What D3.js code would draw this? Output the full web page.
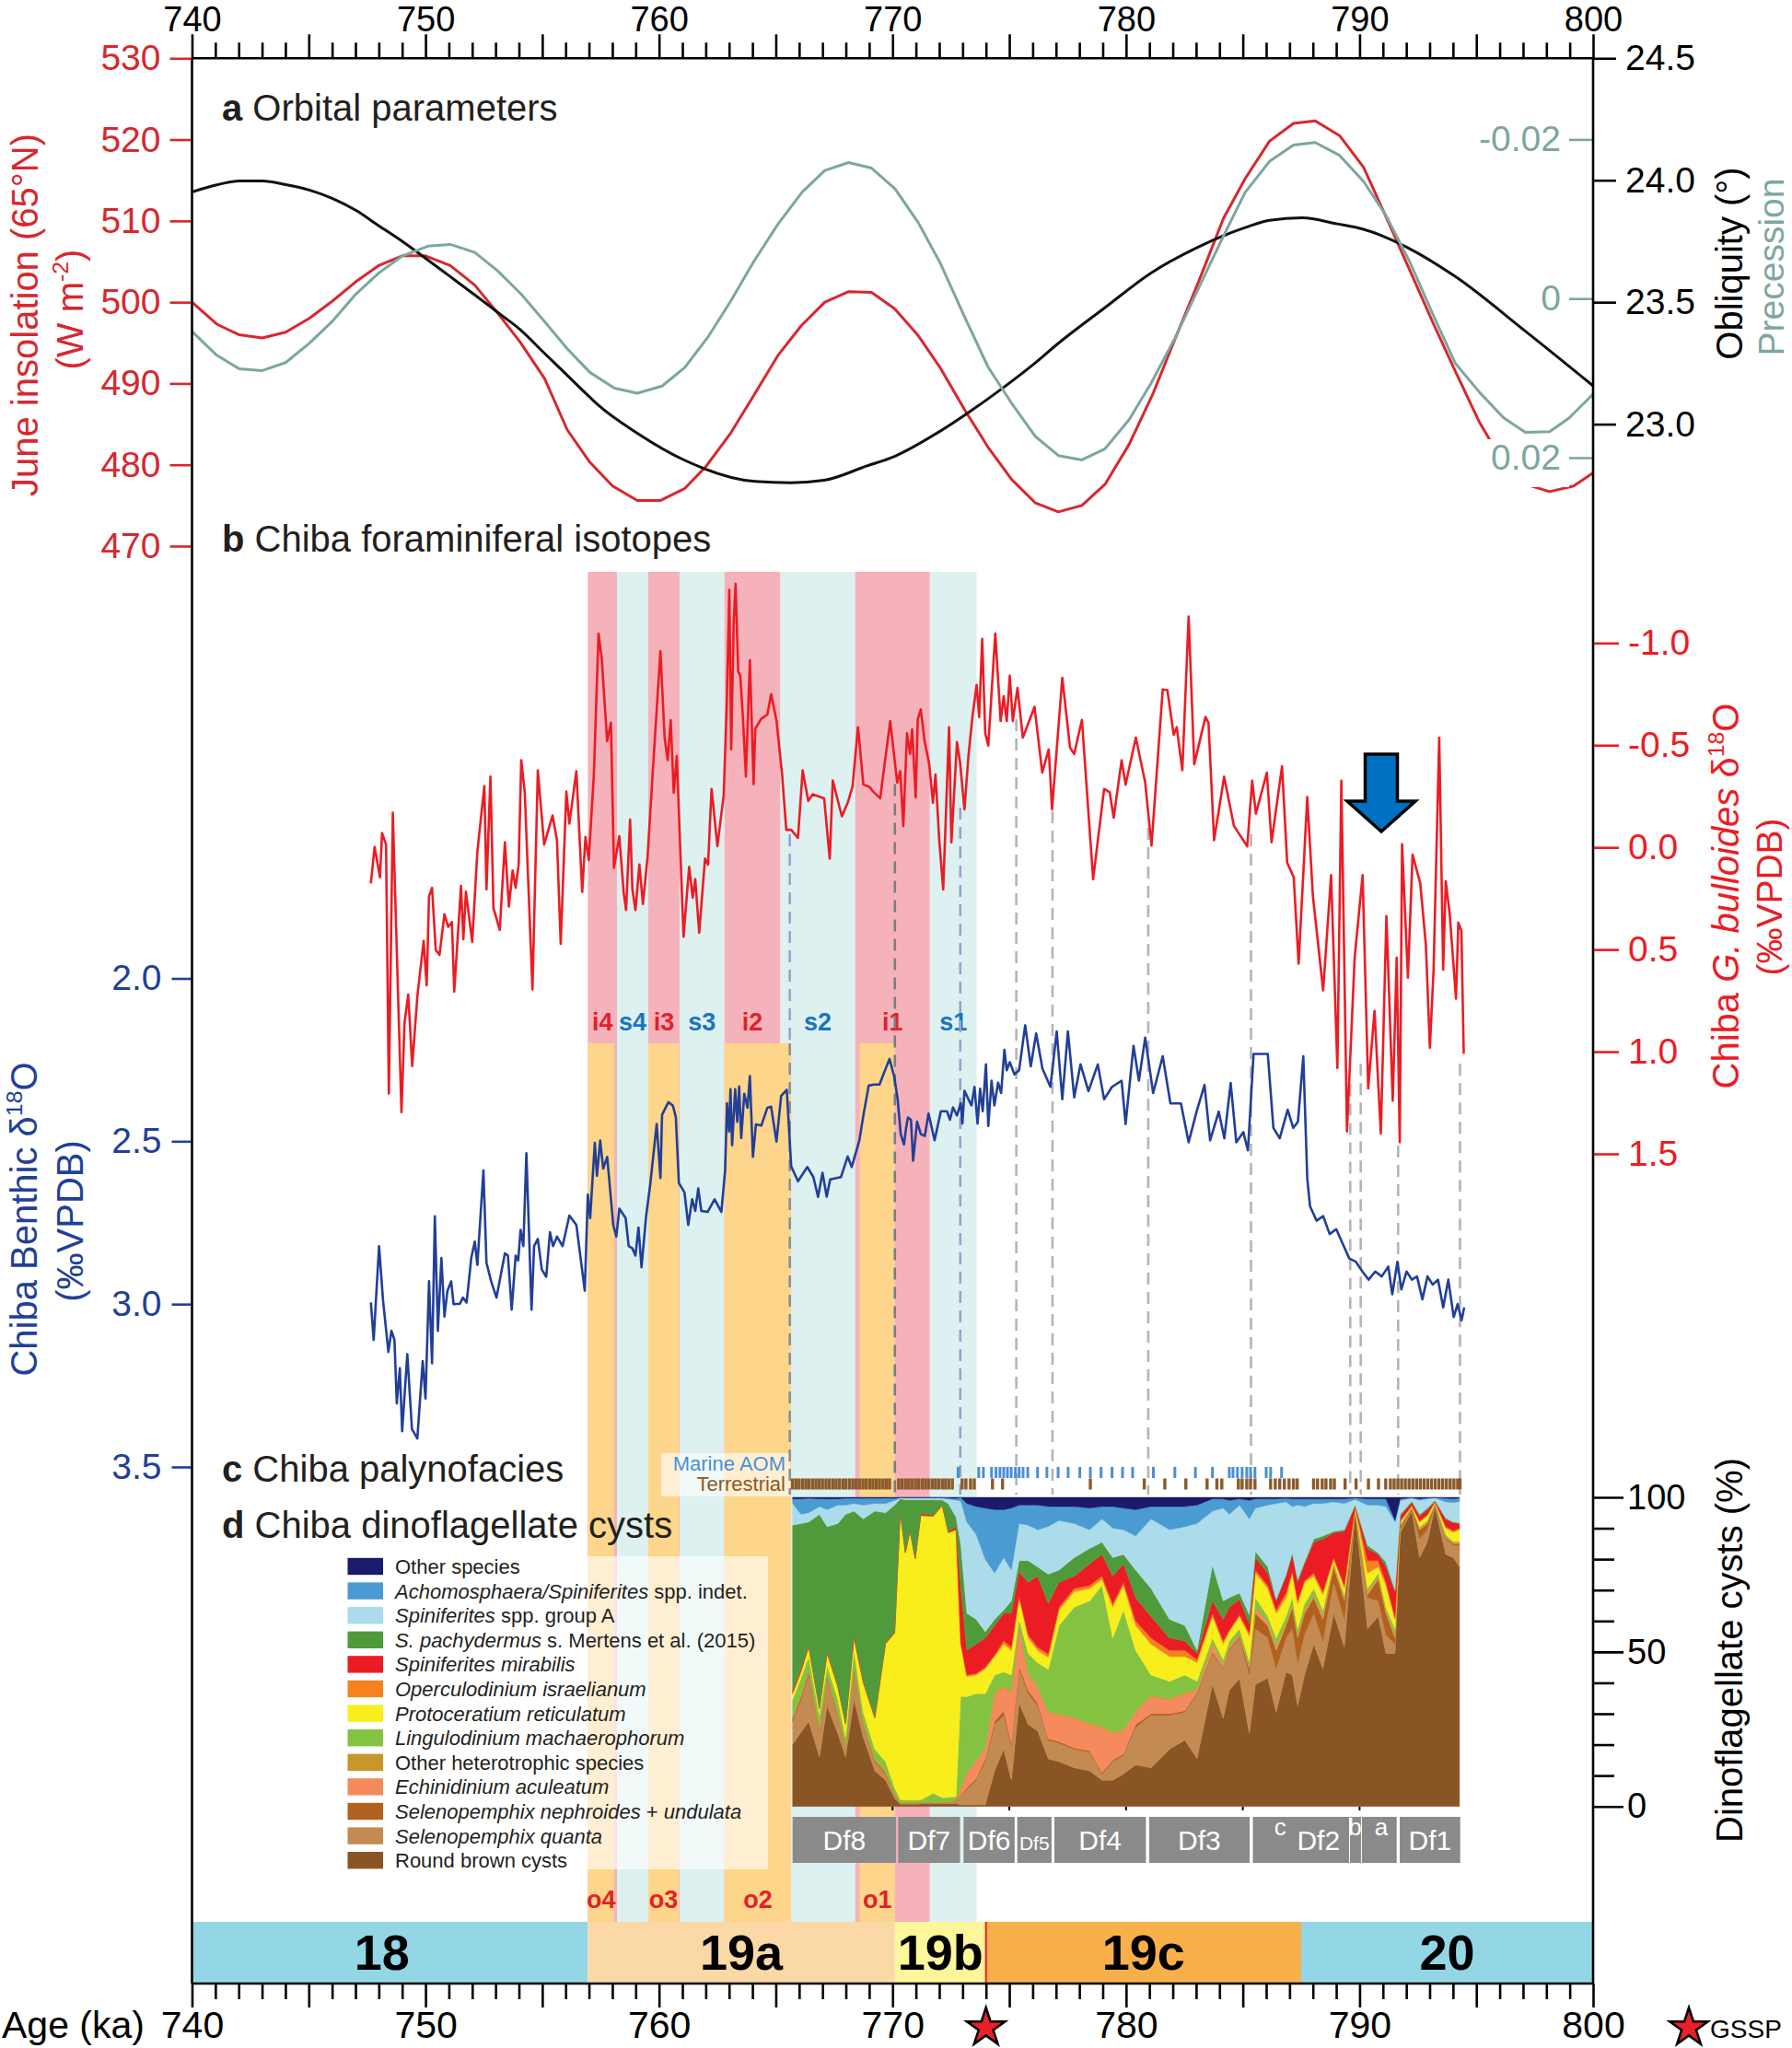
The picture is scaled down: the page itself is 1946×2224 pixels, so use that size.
<!DOCTYPE html>
<html><head><meta charset="utf-8">
<script src="https://cdn.jsdelivr.net/npm/d3@7"></script>
<style>
html,body{margin:0;padding:0;background:#fff;}
svg{display:block;}
</style></head><body>
<svg id="c" width="1946" height="2224"></svg>
<script>
// ---------------- DATA ----------------
const insolAge=[740,741.06,742.01,743.01,744.01,745.02,746,747.01,747.99,749,750,751.06,752.11,753.08,754.05,755.1,756.07,757.04,758.01,759.07,760.05,761.11,762.01,763.07,764.05,765.08,766.09,767.1,768.12,769.1,770.09,771.07,772.05,773.1,774.08,775.1,776.12,777.1,778.11,779.1,780.13,781.16,782.1,783.13,784.17,785.1,786.14,787.17,788.1,789.14,790.17,791.1,792.14,793.17,794.1,795.14,796.1,797.1,798.14,799.17,800];
const insolVal=[500.0,497.3,496.0,495.6,496.3,498.0,500.1,502.5,504.5,505.7,505.7,504.5,502.1,498.7,495.1,490.6,484.3,480.3,477.4,475.6,475.6,477.1,479.8,483.9,488.5,493.4,497.1,500.0,501.3,501.2,499.2,496.0,491.9,486.7,482.2,478.2,475.3,474.2,475.0,477.6,482.5,488.8,495.5,502.7,510.3,515.2,519.8,522.0,522.3,520.5,516.6,510.7,504.0,497.3,491.5,485.2,480.5,477.6,476.7,477.4,479.0];
const oblAge=[740,741.06,742.01,743.01,744.01,745.02,746,747.01,747.99,749,750,751.06,752.11,753.08,754.05,755.1,756.07,757.04,757.41,759.07,761.03,764.12,765.63,767.07,768.88,770.09,771.9,773.18,774.76,776.12,777.03,779.1,781.07,783.04,785.1,786.14,787.54,789.04,790.17,792.05,794.1,797.1,800];
const oblVal=[23.952,23.981,23.997,23.997,23.982,23.96,23.926,23.877,23.814,23.75,23.68,23.605,23.53,23.459,23.388,23.29,23.2,23.11,23.077,22.963,22.855,22.765,22.76,22.77,22.828,22.868,22.963,23.043,23.151,23.252,23.326,23.478,23.62,23.724,23.806,23.836,23.846,23.821,23.799,23.724,23.605,23.381,23.157];
const precAge=[740,741.06,742.01,743.01,744.01,745.02,746,747.01,747.99,749,750.1,751.06,752.11,753.08,754.1,755.1,756.07,757.04,758.09,759.07,760.13,761.1,762.09,763.07,764.05,765.1,766.13,767.1,768.12,769.1,770.11,771.11,772.05,773.1,774.09,775.14,776.12,777.1,778.11,779.1,780.13,781.07,782.1,783.13,784.17,785.1,786.14,787.17,788.1,789.14,790.17,791.1,792.14,793.17,794.1,795.14,796.17,797.1,798.14,798.98,800];
const precVal=[0.00412,0.00713,0.00882,0.00905,0.00805,0.00563,0.00289,-0.00054,-0.00319,-0.00534,-0.00658,-0.0068,-0.0058,-0.00351,-0.00054,0.00289,0.00631,0.00928,0.01127,0.0119,0.011,0.00867,0.00486,0.00033,-0.00463,-0.00938,-0.01338,-0.0161,-0.0171,-0.0164,-0.01379,-0.0095,-0.00442,0.0024,0.0086,0.01334,0.01734,0.01973,0.02028,0.01888,0.01523,0.01066,0.00494,-0.00146,-0.00786,-0.01334,-0.01723,-0.01929,-0.01961,-0.018,-0.01472,-0.0106,-0.00466,0.0022,0.00814,0.0118,0.015,0.01682,0.01673,0.015,0.01202];

const bulAge=[747.66,747.82,748.05,748.14,748.31,748.43,748.6,748.97,749.1,749.26,749.43,749.65,749.92,750.05,750.15,750.28,750.44,750.6,750.81,750.97,751.13,751.23,751.52,751.62,751.73,752.0,752.22,752.52,752.61,752.78,752.91,753.18,753.4,753.57,753.73,753.86,753.99,754.1,754.25,754.58,754.81,755.08,755.44,755.63,755.79,756.03,756.16,756.46,756.71,756.85,756.99,757.21,757.41,757.55,757.65,757.78,757.94,758.07,758.3,758.49,758.59,758.76,758.86,758.99,759.16,759.31,759.51,759.78,760.06,760.24,760.37,760.5,760.63,760.76,761.05,761.29,761.44,761.55,761.72,761.97,762.1,762.25,762.5,762.77,762.9,763.01,763.09,763.2,763.28,763.39,763.48,763.59,763.72,763.89,764.05,764.12,764.38,764.64,764.8,765.03,765.27,765.45,765.66,765.95,766.15,766.39,766.58,767.07,767.31,767.44,767.83,768.08,768.29,768.52,768.75,769.01,769.17,769.47,769.9,770.2,770.33,770.46,770.62,770.75,770.84,770.99,771.08,771.21,771.37,771.57,771.73,771.84,772.0,772.17,772.42,772.52,772.76,772.89,773.08,773.25,773.42,773.6,773.71,773.84,773.97,774.1,774.4,774.63,774.76,774.89,775.02,775.15,775.35,775.58,775.75,776.08,776.41,776.69,776.83,777.27,777.6,777.78,778.11,778.59,779.06,779.3,779.47,779.81,779.98,780.42,780.82,781.09,781.57,781.77,782.04,782.17,782.41,782.68,782.92,783.4,783.53,783.77,784.2,784.62,785.19,785.4,785.56,786.03,786.23,786.68,786.9,787.18,787.39,787.76,788.0,788.44,788.78,789.05,789.22,789.46,789.79,790.13,790.37,790.64,790.91,791.15,791.42,791.59,791.72,791.82,792.07,792.27,792.6,792.84,793.01,793.17,793.41,793.58,793.69,793.86,794.13,794.23,794.36,794.46];
const bulVal=[0.177,-0.002,0.147,-0.07,-0.014,1.205,-0.17,1.296,0.86,0.72,1.07,0.73,0.458,0.675,0.24,0.198,0.503,0.526,0.327,0.389,0.366,0.706,0.189,0.45,0.217,0.463,0.021,-0.30,0.205,-0.346,0.297,0.404,-0.025,0.29,0.113,0.198,0.083,-0.427,-0.27,0.695,-0.377,-0.014,-0.156,-0.035,0.472,-0.273,-0.116,-0.373,0.218,-0.051,0.062,-0.357,-1.046,-0.92,-0.74,-0.52,-0.61,0.10,-0.055,0.226,0.307,-0.136,0.206,0.307,0.084,0.277,0.045,-0.457,-0.96,-0.537,-0.427,-0.623,-0.267,-0.447,0.437,0.095,0.246,0.156,0.418,0.055,0.084,-0.286,-0.006,-0.256,-0.70,-1.26,-0.48,-1.11,-1.29,-0.86,-0.84,-0.64,-0.347,-0.916,-0.31,-0.58,-0.63,-0.65,-0.75,-0.62,-0.357,-0.086,-0.086,-0.046,-0.377,-0.227,-0.26,-0.24,0.055,-0.327,-0.152,-0.218,-0.30,-0.588,-0.308,-0.296,-0.273,-0.24,-0.618,-0.317,-0.373,-0.105,-0.558,-0.457,-0.578,-0.246,-0.628,-0.675,-0.522,-0.407,-0.218,-0.357,-0.035,0.206,-0.588,-0.025,-0.515,-0.417,-0.186,-0.447,-0.638,-0.795,-0.638,-1.02,-0.558,-0.498,-1.046,-0.618,-0.74,-0.618,-0.84,-0.618,-0.78,-0.537,-0.588,-0.688,-0.366,-0.479,-0.186,-0.83,-0.488,-0.457,-0.624,0.156,-0.286,-0.27,-0.145,-0.427,-0.307,-0.537,-0.317,-0.009,-0.773,-0.769,-0.551,-0.588,-0.377,-1.13,-0.407,-0.638,-0.61,-0.035,-0.346,-0.105,-0.005,-0.326,-0.165,-0.366,-0.025,-0.397,0.075,0.146,0.569,-0.246,0.237,0.70,0.136,1.08,-0.326,1.39,0.54,0.136,1.18,0.80,1.40,0.336,1.24,0.54,1.443,-0.015,0.638,0.036,0.177,0.478,0.98,0.598,-0.537,0.598,0.166,0.327,0.74,0.368,0.408,1.01];

const benAge=[747.66,747.78,748.01,748.18,748.41,748.54,748.67,748.77,748.9,749.0,749.22,749.42,749.65,749.88,750.0,750.15,750.28,750.4,750.53,750.68,750.81,750.94,751.1,751.2,751.47,751.6,751.76,751.96,752.11,752.22,752.48,752.61,752.81,753.04,753.4,753.53,753.69,753.86,753.97,754.07,754.19,754.32,754.54,754.65,754.81,754.98,755.17,755.33,755.46,755.63,755.87,756.16,756.46,756.82,756.95,757.05,757.25,757.34,757.48,757.61,757.78,758.04,758.17,758.3,758.57,758.7,758.86,758.99,759.12,759.25,759.45,759.62,759.9,760.06,760.13,760.4,760.59,760.72,760.85,761.09,761.25,761.42,761.55,761.68,761.81,762.08,762.38,762.67,762.83,762.91,763.0,763.06,763.13,763.26,763.35,763.43,763.52,763.65,763.79,763.89,764.02,764.15,764.38,764.64,764.8,765.03,765.23,765.47,765.66,765.95,766.35,766.61,766.81,767.0,767.18,767.33,767.79,768.08,768.25,768.58,768.75,768.98,769.21,769.44,769.64,769.87,770.07,770.22,770.35,770.49,770.58,770.66,770.79,770.88,771.05,771.21,771.38,771.54,771.8,772.07,772.33,772.46,772.59,772.76,772.92,772.99,773.08,773.25,773.38,773.51,773.64,773.75,773.86,774.0,774.1,774.24,774.36,774.52,774.65,774.79,774.89,775.02,775.22,775.42,775.68,775.92,776.15,776.42,776.76,777.03,777.27,777.51,777.78,778.05,778.39,778.79,779.06,779.4,779.81,779.98,780.32,780.55,780.82,781.16,781.57,781.9,782.35,782.68,783.02,783.36,783.6,783.97,784.21,784.48,784.72,785.02,785.22,785.46,785.9,786.07,786.31,786.58,786.92,787.16,787.36,787.59,787.76,787.88,788.16,788.44,788.72,789.0,789.28,789.56,789.84,790.12,790.39,790.67,790.95,791.23,791.4,791.62,791.79,792.01,792.24,792.46,792.69,792.91,793.13,793.36,793.58,793.8,794.03,794.2,794.37,794.48];
const benVal=[2.995,3.11,2.822,2.988,3.147,3.082,3.11,3.305,3.197,3.39,3.154,3.384,3.413,3.175,3.29,2.93,3.182,2.73,3.082,2.858,3.038,2.959,2.93,3.0,2.999,2.98,2.995,2.858,2.808,2.88,2.59,2.873,2.93,2.98,2.844,2.851,3.017,2.851,2.866,2.772,2.822,2.537,3.017,2.822,2.80,2.894,2.916,2.779,2.822,2.793,2.822,2.728,2.757,2.959,2.664,2.736,2.505,2.606,2.498,2.584,2.548,2.757,2.793,2.707,2.736,2.822,2.829,2.851,2.765,2.887,2.728,2.635,2.447,2.613,2.419,2.38,2.39,2.426,2.628,2.657,2.757,2.678,2.714,2.645,2.714,2.717,2.678,2.717,2.59,2.383,2.47,2.34,2.512,2.34,2.44,2.332,2.49,2.354,2.397,2.30,2.548,2.448,2.452,2.397,2.394,2.501,2.361,2.342,2.577,2.623,2.579,2.61,2.671,2.597,2.67,2.617,2.61,2.547,2.579,2.497,2.421,2.329,2.326,2.326,2.289,2.247,2.301,2.371,2.478,2.51,2.459,2.427,2.434,2.56,2.44,2.478,2.484,2.415,2.497,2.408,2.408,2.434,2.396,2.421,2.383,2.446,2.345,2.371,2.39,2.333,2.446,2.339,2.408,2.264,2.453,2.314,2.39,2.32,2.352,2.219,2.282,2.257,2.295,2.282,2.144,2.27,2.169,2.277,2.333,2.163,2.371,2.163,2.365,2.264,2.346,2.264,2.371,2.333,2.314,2.447,2.207,2.314,2.182,2.352,2.239,2.384,2.384,2.503,2.409,2.327,2.497,2.409,2.491,2.321,2.503,2.472,2.528,2.232,2.232,2.232,2.459,2.491,2.403,2.459,2.44,2.239,2.614,2.70,2.744,2.73,2.785,2.77,2.815,2.86,2.87,2.9,2.925,2.9,2.915,2.885,2.97,2.87,2.955,2.9,2.925,2.915,2.985,2.915,2.94,2.925,3.01,2.925,3.04,3.0,3.05,3.01];

// palynofacies occurrences (ka)
const marineAOM=[772.81,773.69,773.89,774.24,774.43,774.6,774.76,774.92,775.08,775.26,775.42,775.59,775.79,776.21,776.61,777.09,777.52,778.02,778.47,778.93,779.4,779.85,780.28,781.17,782.09,782.97,783.7,784.42,784.58,784.77,784.97,785.17,785.33,785.52,786.0,786.19,786.66];
const terrestrial=[765.72,765.86,766.0,766.15,766.29,766.43,766.58,766.72,766.86,767.0,767.15,767.29,767.44,767.58,767.72,767.87,768.01,768.16,768.3,768.44,768.58,768.73,768.87,769.02,769.16,769.3,769.44,769.59,769.73,769.87,770.26,770.4,770.55,770.69,770.83,770.98,771.12,771.27,771.41,771.55,771.7,771.84,771.98,772.13,772.27,772.41,772.56,772.98,773.14,773.34,773.5,774.28,774.71,778.47,780.78,781.66,782.56,783.47,783.89,784.1,784.81,784.97,785.17,785.33,785.52,786.19,786.39,786.58,786.78,786.98,787.17,787.33,788.03,788.2,788.4,788.56,788.76,788.92,789.38,789.85,790.38,790.81,791.12,791.32,791.48,791.64,791.8,791.96,792.12,792.28,792.44,792.6,792.76,792.92,793.08,793.24,793.4,793.56,793.72,793.88,794.04,794.2,794.3];

// dinoflagellate cysts (%)
const dinoAge=[765.72,766.08,766.41,766.87,767.2,767.66,767.99,768.35,768.74,769.24,769.7,770.09,770.33,770.55,770.75,770.97,771.21,771.74,772.13,772.39,772.72,772.92,773.18,773.58,773.97,774.37,774.76,775.09,775.42,775.81,776.21,776.67,777.13,777.78,778.44,778.97,779.43,779.89,780.41,781.07,781.86,782.52,783.04,783.7,784.16,784.42,784.86,785.28,785.54,786.07,786.43,786.85,787.12,787.35,787.64,788.04,788.43,788.89,789.35,789.81,790.34,790.8,791.13,791.52,791.74,792.24,792.57,792.9,793.23,793.69,794.02,794.28];
const roundBrown=[20,24,27.5,16,32.5,23.5,16,34.5,22.5,11.5,8.5,2.5,.7,.7,.7,.7,.8,.8,.8,.8,1,.5,.5,.5,.5,11.5,18.5,8.5,33.5,26.5,24.5,15.5,14.5,12.5,11.5,8.5,8.5,10.5,13.5,12.5,18.5,21.5,15.5,39.5,28.5,37.5,41.5,23.5,39.5,41.5,30.5,43.5,42.5,32.5,42.5,52.5,44.5,62.5,51.5,95,57.5,61.5,49.5,49.5,88.5,95.5,80.5,85.5,97,81.5,80.5,77.5];
const selQuanta=[7.5,10.5,15,8.5,9,6,2.5,10,4,3,2,1,.3,.3,.3,.3,.3,.3,.3,.5,1,3,5,8,14,15,11,11,11,10,8,6,6,6,6,2,6,6,12,17,11,9,21,10,16,13,13,19,18,13,14,11,15,14,13,10,9,10,9,.5,10,5,6,3,1,.5,6,4,.5,5,4,7];
const selNephroides=[1,1,1,.5,.5,.5,.5,.5,.5,.5,.5,.2,.1,.1,.1,.1,.1,.1,.1,.1,.1,.1,.5,.5,1,1,1.5,1,1,1,1,.5,.5,.5,.5,.5,.5,.5,1,.5,.5,.5,.5,.5,.5,.5,.5,2,5,4,6,4,7,8,7,5,7,5,6,.5,1,7,7,2,1,.5,3,2,.3,.5,.5,.5];
const echAculeatum=[0,0,0,0,0,0,0,0,0,0,0,0,0,0,0,0,0,0,0,0,0,2,4.5,5.5,3,9,7.5,16,13,5,5,8.5,8.5,9.5,8.5,14.5,8.5,7.5,4,5.5,4.5,5.5,.5,2.5,.5,.5,.5,.5,1.5,1,1,.5,.5,.5,.5,.5,1,.5,.5,.2,.5,.5,.5,.5,.2,.1,.2,.2,.1,.2,.2,.2];
const otherHetero=[.5,.5,1,.5,.5,.5,.5,.5,.5,.5,.5,.3,.1,.1,.1,.1,.1,.1,.1,.1,.1,.5,.5,.5,.5,.5,.5,1,.5,.5,.5,.5,.5,.5,.5,.5,.5,.5,.5,.5,.5,.5,.5,.5,.5,.5,.5,.5,.5,.5,.5,.5,.5,.5,.5,.5,.5,.5,.5,.2,.5,.5,.5,.5,.2,.1,.3,.3,.1,.2,.2,.2];
const lingMach=[5.5,5.5,4,4,3,4,3,5,3,3,3,2,1,.8,.8,.8,.8,3,1.5,1.5,1,29.5,24.5,21.5,17.5,5.5,4.5,5,1.5,6.5,7.5,13.5,28.5,35.5,39.5,45.5,30.5,38.5,19.5,6.5,5.5,5.5,2.5,1.5,1.5,1.5,1.5,1.5,3,1.5,2.5,2,2,2,2,2,1.5,.5,1,.2,1,1,1,2,.4,.2,.5,.5,.2,.6,.3,.3];
const protoRetic=[2,2,3,2,4,4,4,4,9.5,10,38,50,93,80,87,78,92,89.5,94.5,85.5,86.3,17,6.5,6,8,6,9,8,7,5,4,4,5,5,4,2,10,8,8,10,8,6,6,7,5,3,4,8,8,9,8,6,8,8,7,4,5,1,2,.3,5,2,7,3,.7,.2,1.5,1.5,.2,2,3,3.8];
const operIsrael=[.2,.2,.2,.2,.2,.2,.2,.2,.3,.2,.2,.2,.1,.1,.1,.1,.1,.1,.1,.1,.1,.2,.5,.5,.5,.5,1,1,.5,1,1,1,1,1,1,1,1,1,1.5,2,2,2,1,1,1,.5,.5,1,1,1,1,1.5,.5,1,.5,1,1,.5,1,.2,4,2,1,.5,.3,.3,.3,.3,.2,.5,.5,.5];
const spinMirab=[.8,.8,.3,.3,.3,.3,.3,.8,.4,.3,.3,.3,.2,.3,.3,.3,.5,.3,.2,.3,1,18,8,9.5,9.5,9.5,9,11,8,17,23,16.5,8,4,7,7,9,6,7.5,7,4,3,2,4,7,7.5,5,3,4,4,3,5.5,5.5,6,5.5,10,17,8,17.5,.3,4,2,5,8.5,1.7,1,1.7,1.7,.2,2.5,2.5,1.5];
const sPachy=[53.5,47,40,62.5,40.5,52.5,67.5,40,52.3,66.5,42,41,4,16.8,9.8,18.8,4.5,5,1.5,9,3,14,12,8,2,2,1,4,3.5,7,3,9.5,4,6,5,4,6,3,9,9,6,5,1,11.5,6,3,2,3,2,2,.5,.5,.5,1,.5,1,1,.5,.5,.2,1,.5,1.5,.5,.5,.3,.5,.5,.2,.3,.3,.3];
const spinGroupA=[7,3,3,2.5,5.5,6,3,2.5,4.5,2.5,3,1.5,.3,.5,.5,.5,.5,.5,.6,1.5,5.5,14,29.5,27.5,23.5,15,17,10,12,11.5,12,15.5,16,11,6,7.5,9.5,8,11,22.5,29,32,41,17.5,30,27,28.5,31,14,20,31,23.5,15,24,18,11.5,10.5,9.5,8.5,1.7,13,15.5,18,22,4.5,1,4.5,3,.8,5.2,6.3,6.8];
const achoSpin=[1.5,5,4.7,2.5,3.5,2,2.2,1.7,2.2,1.7,1.7,.7,.1,.2,.2,.2,.2,.2,.2,.4,.5,1.2,6,9,16.5,20.5,15.5,20,6,6.5,8,6.5,4.5,5.5,7,4,7,7,8.5,4,7.5,6.5,6,4,3,4.5,2,6,3,2,1.5,1.2,2.5,2,2.5,1.5,1.5,1,1.5,.5,2,2,2.5,.5,.5,.2,.5,.3,.1,1.2,1.2,1.2];
const otherSpecies=[.5,.5,.3,.5,.5,.5,.3,.3,.3,.3,.3,.3,.1,.1,.1,.1,.1,.1,.1,.2,.4,0,2,3,3.5,4,4,3.5,2.5,2.5,2.5,3,3,3,3.5,3,3,3.5,4,3,3,3,2.5,.5,.5,1,.5,1,.5,.5,.5,.3,.5,.5,.5,.5,.5,.5,.5,.2,.5,.5,.5,7.5,.5,.1,.5,.2,.1,.3,.5,.2];

// zones / intervals
const dfNames=["Df8","Df7","Df6","Df5","Df4","Df3","Df2","","","Df1"];
const dfStart=[765.72,770.24,773.04,775.34,776.93,780.99,785.43,789.59,790.1,791.72];
const dfEnd=[770.15,772.89,775.23,776.81,780.85,785.29,789.55,790.06,791.59,794.31];
const dfSubNames=["c","b","a"];
const dfSubAge=[786.6,789.81,790.93];
const stageNames=["18","19a","19b","19c","20"];
const stageStart=[740,756.95,770.1,774.0,787.5];
const stageEnd=[756.95,770.1,774.0,787.5,800];
const bandNames=["i4","s4","i3","s3","i2","s2","i1","s1"];
const bandStart=[756.95,758.2,759.54,760.88,762.8,765.2,768.4,771.6];
const bandEnd=[758.2,759.54,760.88,762.8,765.2,768.4,771.6,773.6];
const oNames=["o4","o3","o2","o1"];
const oStart=[756.95,759.54,762.8,768.6];
const oEnd=[758.08,760.85,765.66,770.1];
const dashAge=[765.6,770.1,772.9,775.3,776.85,780.95,785.35,789.6,790.05,791.65,794.3];
const dashTop=[-0.064,-0.309,-0.195,-0.627,-0.177,-0.096,-0.064,1.16,1.06,1.46,1.06];
const gsspAge=774.0;
const arrowAge=790.93;

// ---------------- SETUP ----------------
const FONT='"Liberation Sans", Arial, Helvetica, sans-serif';
const svg=d3.select("#c").attr("font-family",FONT);
const x=d3.scaleLinear().domain([740,800]).range([208.5,1730]);
const yIns=d3.scaleLinear().domain([470,530]).range([593,63.3]);
const yObl=d3.scaleLinear().domain([23,24.5]).range([460.6,63.3]);
const yPrec=d3.scaleLinear().domain([-0.02,0.02]).range([151.4,497]);
const yBul=d3.scaleLinear().domain([-1,1.5]).range([698.3,1253]);
const yBen=d3.scaleLinear().domain([2,3.5]).range([1062.5,1593]);
const yDino=d3.scaleLinear().domain([0,1]).range([1961.7,1626]);
const Y_TOP=63.3, Y_BOT=2154;
const BAND_TOP=621, BAND_SPLIT=1133, STAGE_TOP=2087;

const C={ins:"#d6282e",obl:"#111",prec:"#7da69f",bul:"#ec1c24",ben:"#223f98",txt:"#231f20",
 pink:"#f6b2ba",cyan:"#dcf1f0",orange:"#fdd68b",labI:"#e3202a",labS:"#1b75bb"};
const stageCol=["#93d6e5","#fbd9a6","#fdf69b","#f8b04b","#93d6e5"];

// ---------------- BANDS ----------------
const gB=svg.append("g");
bandNames.forEach((n,i)=>{
  gB.append("rect").attr("x",x(bandStart[i])).attr("y",BAND_TOP)
    .attr("width",x(bandEnd[i])-x(bandStart[i])).attr("height",STAGE_TOP-BAND_TOP)
    .attr("fill",n[0]==="i"?C.pink:C.cyan);
});
oNames.forEach((n,i)=>{
  gB.append("rect").attr("x",x(oStart[i])).attr("y",BAND_SPLIT)
    .attr("width",x(oEnd[i])-x(oStart[i])).attr("height",STAGE_TOP-BAND_SPLIT)
    .attr("fill",C.orange);
});
stageNames.forEach((n,i)=>{
  gB.append("rect").attr("x",x(stageStart[i])).attr("y",STAGE_TOP)
    .attr("width",x(stageEnd[i])-x(stageStart[i])).attr("height",Y_BOT-STAGE_TOP)
    .attr("fill",stageCol[i]);
  const cx = i===0 ? x(stageStart[i])+(x(stageEnd[i])-x(stageStart[i]))*0.48 : (x(stageStart[i])+x(stageEnd[i]))/2;
  gB.append("text").attr("x",cx).attr("y",2139).attr("text-anchor","middle")
    .attr("font-size",54).attr("font-weight","bold").attr("fill","#000").text(n);
});
gB.append("line").attr("x1",x(gsspAge)).attr("x2",x(gsspAge)).attr("y1",STAGE_TOP).attr("y2",Y_BOT)
  .attr("stroke","#e8202a").attr("stroke-width",2);

// translucent boxes
svg.append("rect").attr("x",360).attr("y",1690).attr("width",474).attr("height",340).attr("fill","#fff").attr("fill-opacity",0.62);
svg.append("rect").attr("x",718).attr("y",1578).attr("width",140).attr("height",47).attr("fill","#fff").attr("fill-opacity",0.62);

// band labels
bandNames.forEach((n,i)=>{
  svg.append("text").attr("x",(x(bandStart[i])+x(bandEnd[i]))/2).attr("y",1118.5)
    .attr("text-anchor","middle").attr("font-size",27).attr("font-weight","bold")
    .attr("fill",n[0]==="i"?C.labI:C.labS).text(n);
});
oNames.forEach((n,i)=>{
  svg.append("text").attr("x",(x(oStart[i])+x(oEnd[i]))/2).attr("y",2072)
    .attr("text-anchor","middle").attr("font-size",27).attr("font-weight","bold")
    .attr("fill",C.labI).text(n);
});

// ---------------- DASHED LINES ----------------
dashAge.forEach((a,i)=>{
  const col = (i===0||i===2)?"#97a3cc":(i===1?"#7d7d80":"#b4b4b9");
  svg.append("line").attr("x1",x(a)).attr("x2",x(a)).attr("y1",yBul(dashTop[i])).attr("y2",i===0?BAND_SPLIT:1623)
    .attr("stroke",col).attr("stroke-width",2.6).attr("stroke-dasharray","13,8");
  if(i===0) svg.append("line").attr("x1",x(a)).attr("x2",x(a)).attr("y1",BAND_SPLIT).attr("y2",1623)
    .attr("stroke","#8f8f92").attr("stroke-width",2.6).attr("stroke-dasharray","13,8");
});

// ---------------- PANEL B CURVES ----------------
const lineGen=(sx,sy)=>d3.line().x(d=>sx(d[0])).y(d=>sy(d[1]));
svg.append("path").datum(d3.zip(bulAge,bulVal)).attr("d",lineGen(x,yBul))
  .attr("fill","none").attr("stroke",C.bul).attr("stroke-width",2.6).attr("stroke-linejoin","round");
svg.append("path").datum(d3.zip(benAge,benVal)).attr("d",lineGen(x,yBen))
  .attr("fill","none").attr("stroke",C.ben).attr("stroke-width",2.6).attr("stroke-linejoin","round");

// arrow annotation
{
  const cx=x(arrowAge);
  const p=[[cx-17.5,819],[cx+17.5,819],[cx+17.5,870],[cx+37,870],[cx,903],[cx-37,870],[cx-17.5,870]];
  svg.append("path").attr("d","M"+p.map(q=>q.join(",")).join("L")+"Z")
    .attr("fill","#0070c0").attr("stroke","#000").attr("stroke-width",3.5).attr("stroke-linejoin","miter");
}

// ---------------- PANEL C TICKS ----------------
svg.append("g").selectAll("rect").data(marineAOM).join("rect")
  .attr("x",d=>x(d)-1.5).attr("y",1593).attr("width",3).attr("height",12).attr("fill","#4a8fd3");
svg.append("g").selectAll("rect").data(terrestrial).join("rect")
  .attr("x",d=>x(d)-1.7).attr("y",1605.5).attr("width",3.4).attr("height",12).attr("fill","#8b5a2b");

// ---------------- PANEL D STACK ----------------
const keys=["RB","SQ","SN","EA","OH","LM","PR","OI","SM","SP","GA","AS","OS"];
const series={RB:roundBrown,SQ:selQuanta,SN:selNephroides,EA:echAculeatum,OH:otherHetero,LM:lingMach,PR:protoRetic,OI:operIsrael,SM:spinMirab,SP:sPachy,GA:spinGroupA,AS:achoSpin,OS:otherSpecies};
const colors={RB:"#8a5524",SQ:"#c38a52",SN:"#b2601e",EA:"#f58a5c",OH:"#c9962b",LM:"#84c341",PR:"#f7ee1b",OI:"#f5821f",SM:"#ec1c24",SP:"#4f9a3a",GA:"#acdbe9",AS:"#4a9bd1",OS:"#1c1a6b"};
const rows=dinoAge.map((a,i)=>{const r={age:a};keys.forEach(k=>r[k]=series[k][i]);return r;});
const stacked=d3.stack().keys(keys).offset(d3.stackOffsetExpand)(rows);
const area=d3.area().x(d=>x(d.data.age)).y0(d=>yDino(d[0])).y1(d=>yDino(d[1]));
svg.append("g").selectAll("path").data(stacked).join("path")
  .attr("d",area).attr("fill",d=>colors[d.key]).attr("stroke",d=>colors[d.key]).attr("stroke-width",0.4);
svg.append("g").selectAll("line").data([770,775,780,785,790]).join("line")
  .attr("x1",d=>x(d)).attr("x2",d=>x(d)).attr("y1",1962).attr("y2",1966).attr("stroke","#000").attr("stroke-width",2);

// Df zones
dfNames.forEach((n,i)=>{
  const x0=x(dfStart[i]), x1=x(dfEnd[i]);
  svg.append("rect").attr("x",x0).attr("y",1973).attr("width",x1-x0).attr("height",50).attr("fill","#8a8a8a");
  const shift = n==="Df2" ? 19 : 0;
  if(n) svg.append("text").attr("x",(x0+x1)/2+shift).attr("y",2009).attr("text-anchor","middle")
    .attr("font-size",n==="Df5"?21:30).attr("fill","#fff").text(n);
});
dfSubNames.forEach((n,i)=>{
  svg.append("text").attr("x",x(dfSubAge[i])).attr("y",1993).attr("text-anchor","middle")
    .attr("font-size",26).attr("fill","#fff").text(n);
});

// ---------------- LEGEND ----------------
const legendItems=[
 [["Other species",0]],
 [["Achomosphaera/Spiniferites",1],[" spp. indet.",0]],
 [["Spiniferites",1],[" spp. group A",0]],
 [["S. pachydermus",1],[" s. Mertens et al. (2015)",0]],
 [["Spiniferites mirabilis",1]],
 [["Operculodinium israelianum",1]],
 [["Protoceratium reticulatum",1]],
 [["Lingulodinium machaerophorum",1]],
 [["Other heterotrophic species",0]],
 [["Echinidinium aculeatum",1]],
 [["Selenopemphix nephroides",1],[" + ",0],["undulata",1]],
 [["Selenopemphix quanta",1]],
 [["Round brown cysts",0]]
];
const legKeys=keys.slice().reverse();
legendItems.forEach((parts,i)=>{
  const cy=1701+i*26.6;
  svg.append("rect").attr("x",377.5).attr("y",cy-9.2).attr("width",38.5).attr("height",18.4).attr("fill",colors[legKeys[i]]);
  const t=svg.append("text").attr("x",429).attr("y",cy+8).attr("font-size",22).attr("fill",C.txt);
  parts.forEach(p=>{const s=t.append("tspan").text(p[0]); if(p[1]) s.attr("font-style","italic");});
});

// ---------------- PANEL A CURVES ----------------
svg.append("path").datum(d3.zip(insolAge,insolVal)).attr("d",lineGen(x,yIns))
  .attr("fill","none").attr("stroke",C.ins).attr("stroke-width",3).attr("stroke-linejoin","round");
svg.append("path").datum(d3.zip(oblAge,oblVal)).attr("d",lineGen(x,yObl).curve(d3.curveMonotoneX))
  .attr("fill","none").attr("stroke",C.obl).attr("stroke-width",3);
svg.append("rect").attr("x",1612).attr("y",477).attr("width",92).attr("height",52).attr("fill","#fff");
svg.append("path").datum(d3.zip(precAge,precVal)).attr("d",lineGen(x,yPrec))
  .attr("fill","none").attr("stroke",C.prec).attr("stroke-width",3).attr("stroke-linejoin","round");

// ---------------- AXES ----------------
function styleAxis(g,color,fs,w){
  g.select(".domain").remove();
  g.attr("font-family",FONT).attr("font-size",fs);
  g.selectAll(".tick line").attr("stroke",color).attr("stroke-width",w||2.6);
  g.selectAll(".tick text").attr("fill",color);
}
const minor=[],major5=[];
for(let v=740;v<=800;v++){ (v%5===0?major5:minor).push(v); }
styleAxis(svg.append("g").attr("transform",`translate(0,${Y_TOP})`).call(d3.axisTop(x).tickValues(minor).tickSize(17).tickFormat("")),"#000",38);
styleAxis(svg.append("g").attr("transform",`translate(0,${Y_TOP})`).call(d3.axisTop(x).tickValues(major5).tickSize(26).tickPadding(3).tickFormat(d=>d%10===0?d:"")),"#000",38);
styleAxis(svg.append("g").attr("transform",`translate(0,${Y_BOT})`).call(d3.axisBottom(x).tickValues(minor).tickSize(17).tickFormat("")),"#000",41);
styleAxis(svg.append("g").attr("transform",`translate(0,${Y_BOT})`).call(d3.axisBottom(x).tickValues(major5).tickSize(26).tickPadding(4).tickFormat(d=>d%10===0?d:"")),"#000",41);
styleAxis(svg.append("g").attr("transform","translate(208.5,0)").call(d3.axisLeft(yIns).tickValues([470,480,490,500,510,520,530]).tickSize(24).tickPadding(10)),C.ins,39);
styleAxis(svg.append("g").attr("transform","translate(1730,0)").call(d3.axisRight(yObl).tickValues([23,23.5,24,24.5]).tickSize(25).tickPadding(10).tickFormat(d=>d.toFixed(1))),"#000",39);
styleAxis(svg.append("g").attr("transform","translate(1730,0)").call(d3.axisLeft(yPrec).tickValues([-0.02,0,0.02]).tickSize(26).tickPadding(9).tickFormat(d=>d===0?"0":d.toFixed(2))),C.prec,39);
styleAxis(svg.append("g").attr("transform","translate(1730,0)").call(d3.axisRight(yBul).tickValues([-1,-0.5,0,0.5,1,1.5]).tickSize(28).tickPadding(10).tickFormat(d=>d.toFixed(1))),C.bul,39);
styleAxis(svg.append("g").attr("transform","translate(208.5,0)").call(d3.axisLeft(yBen).tickValues([2,2.5,3,3.5]).tickSize(22).tickPadding(11).tickFormat(d=>d.toFixed(1))),C.ben,39);
styleAxis(svg.append("g").attr("transform","translate(1730,0)").call(d3.axisRight(yDino).tickValues([0.1,0.2,0.3,0.4,0.6,0.7,0.8,0.9]).tickSize(23).tickFormat("")),"#000",38);
styleAxis(svg.append("g").attr("transform","translate(1730,0)").call(d3.axisRight(yDino).tickValues([0,0.5,1]).tickSize(33).tickPadding(4).tickFormat(d=>Math.round(d*100))),"#000",38);

const fr=svg.append("g").attr("stroke","#000").attr("stroke-width",2.6);
fr.append("line").attr("x1",208.5).attr("x2",208.5).attr("y1",Y_TOP).attr("y2",Y_BOT);
fr.append("line").attr("x1",1730).attr("x2",1730).attr("y1",Y_TOP).attr("y2",Y_BOT);
fr.append("line").attr("x1",208.5).attr("x2",1730).attr("y1",Y_TOP).attr("y2",Y_TOP);
fr.append("line").attr("x1",208.5).attr("x2",1730).attr("y1",Y_BOT).attr("y2",Y_BOT);

// ---------------- TEXT ----------------
function label(xp,yp,parts,fs,color){
  const t=svg.append("text").attr("x",xp).attr("y",yp).attr("font-size",fs).attr("fill",color||C.txt);
  parts.forEach(p=>{const s=t.append("tspan").text(p[0]); if(p[1]==="b") s.attr("font-weight","bold"); if(p[1]==="i") s.attr("font-style","italic");});
  return t;
}
label(241,130.5,[["a","b"],[" Orbital parameters"]],40);
label(241,599,[["b","b"],[" Chiba foraminiferal isotopes"]],40);
label(241,1609,[["c","b"],[" Chiba palynofacies"]],40);
label(241,1670,[["d","b"],[" Chiba dinoflagellate cysts"]],40);
svg.append("text").attr("x",853).attr("y",1597).attr("text-anchor","end").attr("font-size",22).attr("fill","#4a8fd3").text("Marine AOM");
svg.append("text").attr("x",853).attr("y",1619).attr("text-anchor","end").attr("font-size",22).attr("fill","#8b5a2b").text("Terrestrial");

function vtitle(cx,cy,parts,fs,color){
  const t=svg.append("text").attr("transform",`translate(${cx},${cy}) rotate(-90)`)
    .attr("text-anchor","middle").attr("y",fs*0.36).attr("font-size",fs).attr("fill",color);
  let up=false;
  parts.forEach(p=>{
    const s=t.append("tspan").text(p[0]);
    if(p[1]==="i") s.attr("font-style","italic");
    if(p[1]==="sup"){ s.attr("font-size",fs*0.62).attr("dy",-fs*0.42); up=true; }
    else if(up){ s.attr("dy",fs*0.42); up=false; }
  });
}
vtitle(27,342,[["June insolation (65°N)"]],40,C.ins);
vtitle(76,336,[["(W m"],["-2","sup"],[")"]],40,C.ins);
vtitle(1878,286,[["Obliquity (°)"]],40,"#000");
vtitle(1923,290,[["Precession"]],39,C.prec);
vtitle(26,1324,[["Chiba Benthic δ"],["18","sup"],["O"]],40,C.ben);
vtitle(76,1326,[["(‰VPDB)"]],40,C.ben);
vtitle(1874,973,[["Chiba "],["G. bulloides","i"],[" δ"],["18","sup"],["O"]],40,C.bul);
vtitle(1921,974,[["(‰VPDB)"]],39,C.bul);
vtitle(1878,1792,[["Dinoflagellate cysts (%)"]],40,"#000");

svg.append("text").attr("x",2).attr("y",2213).attr("font-size",41).attr("fill","#000").text("Age (ka)");
const star=d3.symbol().type(d3.symbolStar).size(540);
svg.append("path").attr("d",star()).attr("transform",`translate(${x(gsspAge)},2202)`)
  .attr("fill","#e8202a").attr("stroke","#000").attr("stroke-width",2.5);
svg.append("path").attr("d",star()).attr("transform",`translate(1834,2202)`)
  .attr("fill","#e8202a").attr("stroke","#000").attr("stroke-width",2.5);
svg.append("text").attr("x",1857).attr("y",2213).attr("font-size",28).attr("fill","#000").text("GSSP");
</script></body></html>
